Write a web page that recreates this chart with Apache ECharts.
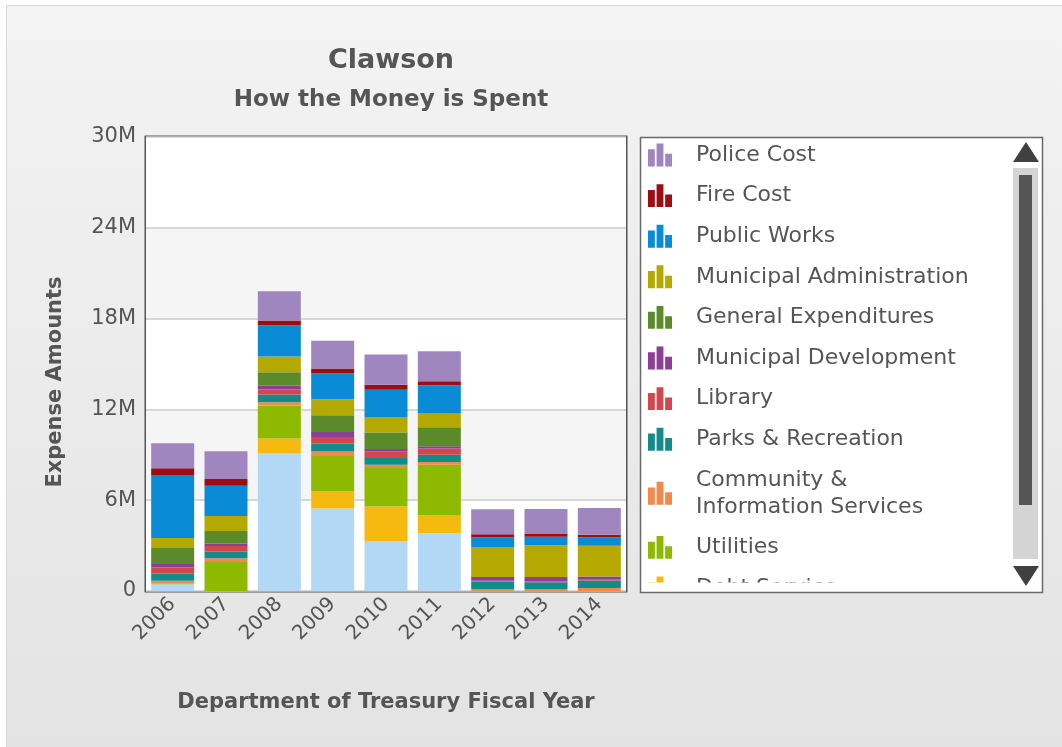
<!DOCTYPE html>
<html>
<head>
<meta charset="utf-8">
<script src="https://cdn.jsdelivr.net/npm/echarts@6/dist/echarts.min.js"></script>
<style>
html,body{margin:0;padding:0;background:#fff;}
#c{width:1062px;height:747px;}
</style>
</head>
<body>
<div id="c"></div>
<script>
// Values in millions of dollars
var years = ['2006','2007','2008','2009','2010','2011','2012','2013','2014'];
var yTicks = [0, 6, 12, 18, 24, 30];
var police      = [1.66, 1.83, 1.94, 1.83, 1.99, 1.99, 1.66, 1.66, 1.77];
var fire        = [0.44, 0.44, 0.33, 0.33, 0.33, 0.26, 0.22, 0.18, 0.18];
var publicWorks = [4.17, 2.00, 2.05, 1.70, 1.83, 1.83, 0.66, 0.55, 0.55];
var muniAdmin   = [0.66, 1.00, 1.04, 1.06, 0.99, 0.95, 1.94, 2.10, 2.03];
var generalExp  = [1.06, 0.84, 0.88, 1.10, 1.10, 1.26, 0, 0, 0];
var muniDev     = [0.22, 0.15, 0.26, 0.33, 0.15, 0.15, 0.26, 0.31, 0.22];
var library     = [0.40, 0.37, 0.33, 0.44, 0.44, 0.40, 0.05, 0.05, 0.05];
var parks       = [0.49, 0.44, 0.51, 0.53, 0.44, 0.49, 0.49, 0.44, 0.49];
var community   = [0.18, 0.24, 0.22, 0.29, 0.22, 0.18, 0.13, 0.13, 0.20];
var utilities   = [0.05, 1.92, 2.17, 2.32, 2.54, 3.31, 0, 0, 0];
var debtService = [0, 0, 0.99, 1.15, 2.32, 1.21, 0, 0, 0];
var capital     = [0.44, 0, 9.09, 5.45, 3.27, 3.82, 0, 0, 0];

var seriesDefs = [
  ['Police Cost', police, '#a086be'],
  ['Fire Cost', fire, '#9b0e14'],
  ['Public Works', publicWorks, '#0a8bd6'],
  ['Municipal Administration', muniAdmin, '#b4a900'],
  ['General Expenditures', generalExp, '#5b8a2b'],
  ['Municipal Development', muniDev, '#8b3f97'],
  ['Library', library, '#d2474e'],
  ['Parks & Recreation', parks, '#118c8b'],
  ['Community & Information Services', community, '#f2884a'],
  ['Utilities', utilities, '#8dba00'],
  ['Debt Service', debtService, '#f5b90f'],
  ['Capital Projects', capital, '#b2d8f6']
];

var FONT = 'DejaVu Sans';
var TXT = '#555555';
var icon = 'path://M0,5H6V20H0Z M7.5,0H13.5V20H7.5Z M15,9H21V20H15Z';

var series = seriesDefs.slice().reverse().map(function (d) {
  return {
    name: d[0], type: 'bar', stack: 'total', data: d[1],
    barWidth: 43, itemStyle: { color: d[2] },
    emphasis: { disabled: true }
  };
});

var chart = echarts.init(document.getElementById('c'), null, { renderer: 'canvas' });
chart.setOption({
  backgroundColor: '#ffffff',
  animation: false,
  color: seriesDefs.map(function (d) { return d[2]; }),
  graphic: [
    { type: 'rect', z: -10, shape: { x: 6.5, y: 5.5, width: 1060, height: 745 },
      style: { fill: new echarts.graphic.LinearGradient(0, 0, 0, 1, [
        { offset: 0, color: '#f3f3f3' }, { offset: 1, color: '#e3e3e3' }]),
        stroke: '#d9d9d9', lineWidth: 1 } },
    { type: 'rect', z: -5, shape: { x: 640.5, y: 137.5, width: 402, height: 455 },
      style: { fill: '#ffffff', stroke: '#6a6a6a', lineWidth: 1.5 } },
    { type: 'rect', z: 50, shape: { x: 1013, y: 168, width: 25, height: 391 },
      style: { fill: '#d4d4d4' } },
    { type: 'rect', z: 51, shape: { x: 1019, y: 175, width: 13, height: 330 },
      style: { fill: '#555555' } },
    { type: 'polygon', z: 51, shape: { points: [[1026, 142], [1013, 162], [1039, 162]] },
      style: { fill: '#404040' } },
    { type: 'polygon', z: 51, shape: { points: [[1013, 566], [1039, 566], [1026, 586]] },
      style: { fill: '#404040' } }
  ],
  title: [
    { text: 'Clawson', left: 386, top: 42, textAlign: 'center',
      textStyle: { fontFamily: FONT, fontSize: 27, fontWeight: 'bold', color: TXT } },
    { text: 'How the Money is Spent', left: 386, top: 84, textAlign: 'center',
      textStyle: { fontFamily: FONT, fontSize: 23, fontWeight: 'bold', color: TXT } }
  ],
  legend: {
    type: 'scroll', orient: 'vertical', left: 643, top: 136.5, width: 360, height: 453,
    data: seriesDefs.map(function (d) { return d[0]; }),
    icon: icon, itemWidth: 24, itemHeight: 23, itemGap: 13.6,
    selectedMode: false,
    pageIconSize: 1, pageIconColor: 'rgba(0,0,0,0)', pageIconInactiveColor: 'rgba(0,0,0,0)',
    pageTextStyle: { color: 'rgba(0,0,0,0)' }, pageFormatter: '',
    pageButtonItemGap: 0, pageButtonGap: 0,
    formatter: function (n) {
      return n === 'Community & Information Services' ? 'Community &\nInformation Services' : n;
    },
    textStyle: { fontFamily: FONT, fontSize: 22, color: TXT, lineHeight: 27, padding: [0, 0, 0, 19] }
  },
  grid: { left: 146, top: 137, right: 436, bottom: 156, show: true,
    backgroundColor: 'transparent', borderColor: '#555555', borderWidth: 3 },
  xAxis: {
    type: 'category', data: years,
    name: 'Department of Treasury Fiscal Year', nameLocation: 'middle', nameGap: 101,
    nameTextStyle: { fontFamily: FONT, fontSize: 21, fontWeight: 'bold', color: TXT },
    axisLine: { show: false }, axisTick: { show: false },
    axisLabel: { rotate: 45, fontFamily: FONT, fontSize: 20, color: TXT, margin: 10 }
  },
  yAxis: {
    type: 'value', min: yTicks[0], max: yTicks[yTicks.length - 1], interval: 6,
    name: 'Expense Amounts', nameLocation: 'middle', nameGap: 80,
    nameTextStyle: { fontFamily: FONT, fontSize: 21, fontWeight: 'bold', color: TXT,
      padding: [0, 36, 0, 0] },
    axisLine: { show: false }, axisTick: { show: false },
    axisLabel: { fontFamily: FONT, fontSize: 21, color: TXT, margin: 10,
      formatter: function (v) { return v === 0 ? '0' : v + 'M'; } },
    splitLine: { show: true, lineStyle: { color: '#cccccc', width: 1.5 } },
    splitArea: { show: true, areaStyle: { color: ['#ffffff', '#f5f5f5'] } }
  },
  series: series
});
</script>
</body>
</html>
